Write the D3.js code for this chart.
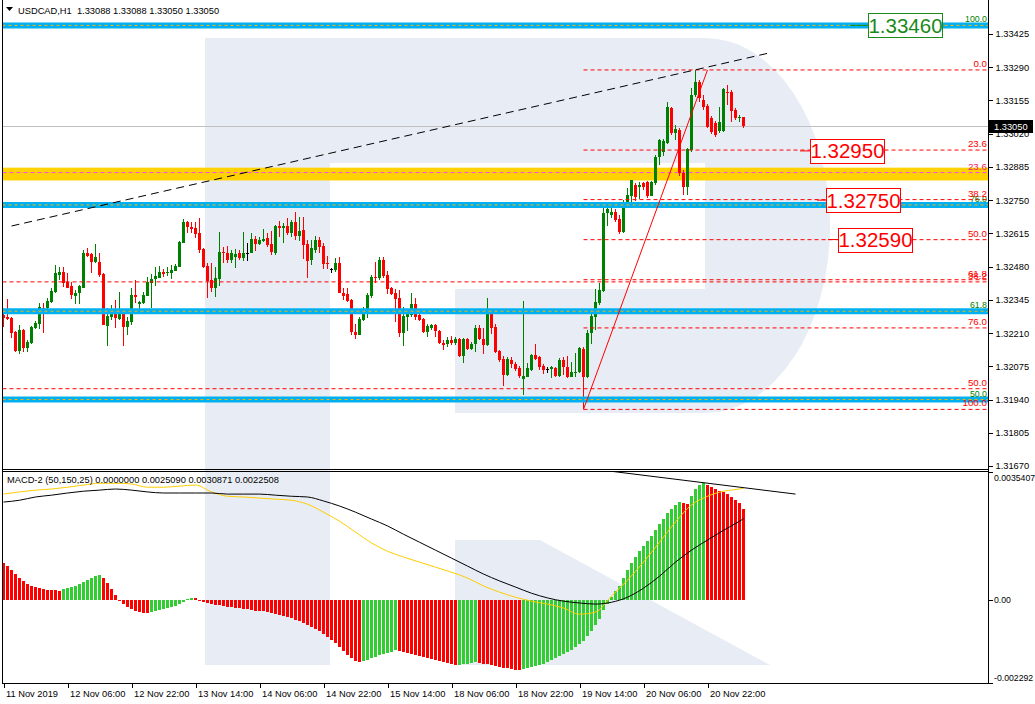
<!DOCTYPE html>
<html><head><meta charset="utf-8">
<script src="https://cdn.jsdelivr.net/npm/d3@7"></script>
<style>
html,body{margin:0;padding:0;background:#fff;}
svg{display:block;font-family:"Liberation Sans",Arial,sans-serif;}
</style></head><body>
<svg id="c" width="1035" height="704"></svg>
<script>
// ---------------- DATA ----------------
const openP = [1.32284,1.32276,1.32272,1.32215,1.32138,1.32223,1.32150,1.32170,1.32231,1.32248,
1.32313,1.32313,1.32337,1.32377,1.32447,1.32459,1.32418,1.32402,1.32361,1.32373,
1.32394,1.32536,1.32532,1.32499,1.32499,1.32451,1.32239,1.32276,1.32304,1.32268,
1.32288,1.32235,1.32256,1.32365,1.32329,1.32333,1.32361,1.32414,1.32430,1.32434,
1.32459,1.32455,1.32455,1.32463,1.32479,1.32576,1.32662,1.32641,1.32637,1.32617,
1.32552,1.32483,1.32426,1.32394,1.32430,1.32540,1.32536,1.32507,1.32520,1.32536,
1.32516,1.32536,1.32536,1.32593,1.32572,1.32585,1.32597,1.32572,1.32536,1.32645,
1.32637,1.32645,1.32617,1.32662,1.32605,1.32629,1.32572,1.32507,1.32548,1.32589,
1.32564,1.32495,1.32471,1.32467,1.32495,1.32373,1.32369,1.32345,1.32215,1.32203,
1.32264,1.32304,1.32361,1.32438,1.32434,1.32507,1.32447,1.32394,1.32373,1.32353,
1.32211,1.32276,1.32284,1.32329,1.32284,1.32268,1.32215,1.32231,1.32244,1.32219,
1.32170,1.32166,1.32183,1.32170,1.32187,1.32118,1.32187,1.32146,1.32166,1.32231,
1.32187,1.32162,1.32292,1.32235,1.32138,1.32105,1.32041,1.32101,1.32085,1.32069,
1.32024,1.32032,1.32061,1.32122,1.32114,1.32077,1.32065,1.32065,1.32069,1.32036,
1.32101,1.32073,1.32032,1.32049,1.32053,1.32146,1.32032,1.32211,1.32276,1.32333,
1.32382,1.32698,1.32690,1.32702,1.32674,1.32621,1.32731,1.32767,1.32812,1.32804,
1.32820,1.32824,1.32767,1.32820,1.32926,1.32946,1.32982,1.33125,1.33023,1.33035,
1.32861,1.32804,1.32954,1.33177,1.33230,1.33157,1.33133,1.33084,1.33064,1.33031,
1.33031,1.33189,1.33189,1.33116,1.33084,1.33088];
const highP = [1.32304,1.32349,1.32276,1.32219,1.32244,1.32227,1.32183,1.32239,1.32260,1.32333,
1.32333,1.32353,1.32394,1.32487,1.32479,1.32479,1.32455,1.32418,1.32386,1.32406,
1.32548,1.32556,1.32536,1.32572,1.32536,1.32455,1.32313,1.32325,1.32345,1.32377,
1.32304,1.32276,1.32394,1.32426,1.32341,1.32377,1.32438,1.32451,1.32479,1.32483,
1.32471,1.32479,1.32487,1.32491,1.32585,1.32674,1.32666,1.32662,1.32662,1.32678,
1.32556,1.32495,1.32495,1.32479,1.32621,1.32560,1.32564,1.32548,1.32552,1.32548,
1.32621,1.32576,1.32617,1.32605,1.32601,1.32633,1.32617,1.32625,1.32649,1.32666,
1.32658,1.32678,1.32670,1.32702,1.32682,1.32682,1.32589,1.32589,1.32605,1.32601,
1.32576,1.32524,1.32475,1.32516,1.32520,1.32394,1.32394,1.32349,1.32248,1.32276,
1.32317,1.32373,1.32447,1.32499,1.32520,1.32520,1.32463,1.32398,1.32390,1.32386,
1.32317,1.32304,1.32373,1.32353,1.32296,1.32272,1.32248,1.32248,1.32248,1.32223,
1.32183,1.32195,1.32199,1.32195,1.32191,1.32191,1.32191,1.32174,1.32244,1.32244,
1.32231,1.32353,1.32300,1.32248,1.32142,1.32118,1.32114,1.32114,1.32093,1.32077,
1.32341,1.32089,1.32126,1.32166,1.32118,1.32085,1.32073,1.32077,1.32073,1.32110,
1.32114,1.32118,1.32093,1.32130,1.32154,1.32154,1.32223,1.32296,1.32390,1.32414,
1.32723,1.32739,1.32727,1.32714,1.32690,1.32751,1.32800,1.32832,1.32820,1.32824,
1.32824,1.32828,1.32828,1.32934,1.32999,1.32999,1.33149,1.33129,1.33055,1.33043,
1.32873,1.32962,1.33206,1.33279,1.33238,1.33177,1.33141,1.33092,1.33072,1.33129,
1.33206,1.33218,1.33198,1.33125,1.33096,1.33088];
const lowP = [1.32235,1.32264,1.32191,1.32134,1.32126,1.32134,1.32134,1.32166,1.32227,1.32227,
1.32211,1.32296,1.32333,1.32373,1.32426,1.32398,1.32394,1.32349,1.32329,1.32329,
1.32394,1.32520,1.32455,1.32495,1.32438,1.32244,1.32158,1.32264,1.32231,1.32264,
1.32158,1.32203,1.32244,1.32333,1.32292,1.32329,1.32361,1.32313,1.32402,1.32434,
1.32438,1.32442,1.32430,1.32463,1.32479,1.32576,1.32617,1.32617,1.32597,1.32536,
1.32475,1.32353,1.32377,1.32357,1.32402,1.32495,1.32495,1.32495,1.32475,1.32507,
1.32503,1.32503,1.32536,1.32544,1.32568,1.32580,1.32560,1.32528,1.32528,1.32601,
1.32576,1.32609,1.32601,1.32589,1.32585,1.32511,1.32434,1.32487,1.32536,1.32536,
1.32471,1.32471,1.32455,1.32459,1.32373,1.32345,1.32337,1.32203,1.32187,1.32203,
1.32260,1.32272,1.32353,1.32414,1.32426,1.32434,1.32369,1.32365,1.32256,1.32195,
1.32158,1.32219,1.32276,1.32264,1.32260,1.32211,1.32195,1.32223,1.32195,1.32166,
1.32142,1.32154,1.32162,1.32162,1.32114,1.32089,1.32142,1.32142,1.32134,1.32183,
1.32126,1.32158,1.32207,1.32130,1.32093,1.31996,1.32036,1.32069,1.32057,1.32028,
1.31959,1.32032,1.32057,1.32101,1.32061,1.32045,1.32049,1.32028,1.32032,1.32032,
1.32041,1.32028,1.32032,1.32032,1.32049,1.31900,1.32028,1.32166,1.32223,1.32325,
1.32377,1.32645,1.32678,1.32662,1.32613,1.32617,1.32723,1.32739,1.32747,1.32755,
1.32792,1.32759,1.32767,1.32812,1.32893,1.32930,1.32978,1.33015,1.32995,1.32848,
1.32771,1.32771,1.32946,1.33169,1.33149,1.33116,1.33043,1.33019,1.33007,1.33023,
1.33027,1.33137,1.33068,1.33076,1.33068,1.33043];
const closeP = [1.32272,1.32268,1.32211,1.32138,1.32223,1.32150,1.32174,1.32235,1.32252,1.32317,
1.32308,1.32341,1.32382,1.32455,1.32459,1.32414,1.32394,1.32365,1.32373,1.32402,
1.32536,1.32524,1.32499,1.32520,1.32447,1.32244,1.32280,1.32304,1.32272,1.32292,
1.32235,1.32260,1.32365,1.32357,1.32337,1.32365,1.32418,1.32430,1.32442,1.32459,
1.32451,1.32459,1.32467,1.32483,1.32580,1.32662,1.32641,1.32633,1.32613,1.32548,
1.32479,1.32422,1.32394,1.32434,1.32540,1.32536,1.32507,1.32536,1.32532,1.32516,
1.32536,1.32536,1.32593,1.32572,1.32589,1.32593,1.32568,1.32540,1.32645,1.32637,
1.32645,1.32617,1.32662,1.32605,1.32625,1.32568,1.32503,1.32556,1.32589,1.32560,
1.32491,1.32491,1.32471,1.32495,1.32373,1.32361,1.32341,1.32215,1.32203,1.32268,
1.32308,1.32365,1.32438,1.32434,1.32507,1.32442,1.32390,1.32369,1.32349,1.32211,
1.32280,1.32292,1.32329,1.32276,1.32264,1.32215,1.32239,1.32244,1.32219,1.32170,
1.32162,1.32183,1.32170,1.32187,1.32118,1.32187,1.32146,1.32166,1.32231,1.32187,
1.32162,1.32288,1.32231,1.32134,1.32101,1.32041,1.32105,1.32085,1.32065,1.32036,
1.32036,1.32069,1.32122,1.32105,1.32073,1.32061,1.32065,1.32073,1.32036,1.32101,
1.32073,1.32032,1.32053,1.32053,1.32150,1.32032,1.32211,1.32280,1.32337,1.32386,
1.32698,1.32714,1.32702,1.32670,1.32621,1.32735,1.32771,1.32832,1.32763,1.32812,
1.32804,1.32767,1.32824,1.32926,1.32995,1.32991,1.33129,1.33023,1.33039,1.32861,
1.32804,1.32958,1.33177,1.33230,1.33165,1.33129,1.33047,1.33027,1.33015,1.33068,
1.33202,1.33185,1.33112,1.33084,1.33088,1.33050];

const histVals = [0.00102,0.00094,0.00083,0.00072,0.00061,0.00053,0.00044,0.00039,0.00036,0.00033,
0.00030,0.00029,0.00028,0.00027,0.00026,0.00030,0.00033,0.00036,0.00039,0.00044,
0.00050,0.00055,0.00061,0.00066,0.00069,0.00061,0.00047,0.00030,0.00014,-0.00003,
-0.00011,-0.00019,-0.00025,-0.00030,-0.00033,-0.00036,-0.00037,-0.00033,-0.00030,-0.00028,
-0.00025,-0.00022,-0.00019,-0.00017,-0.00011,-0.00006,0.00003,0.00006,0.00005,-0.00001,
-0.00006,-0.00008,-0.00011,-0.00013,-0.00014,-0.00017,-0.00019,-0.00020,-0.00022,-0.00023,
-0.00025,-0.00026,-0.00028,-0.00029,-0.00030,-0.00031,-0.00033,-0.00036,-0.00039,-0.00041,
-0.00044,-0.00047,-0.00050,-0.00055,-0.00058,-0.00064,-0.00069,-0.00075,-0.00080,-0.00086,
-0.00094,-0.00102,-0.00111,-0.00119,-0.00130,-0.00141,-0.00152,-0.00160,-0.00169,-0.00171,
-0.00169,-0.00166,-0.00160,-0.00158,-0.00152,-0.00149,-0.00146,-0.00144,-0.00138,-0.00141,
-0.00144,-0.00146,-0.00149,-0.00152,-0.00155,-0.00158,-0.00160,-0.00163,-0.00166,-0.00169,
-0.00171,-0.00174,-0.00177,-0.00180,-0.00179,-0.00177,-0.00176,-0.00174,-0.00171,-0.00174,
-0.00177,-0.00178,-0.00180,-0.00182,-0.00185,-0.00188,-0.00189,-0.00191,-0.00192,-0.00193,
-0.00191,-0.00188,-0.00185,-0.00182,-0.00180,-0.00177,-0.00171,-0.00166,-0.00160,-0.00155,
-0.00149,-0.00144,-0.00138,-0.00130,-0.00122,-0.00113,-0.00100,-0.00086,-0.00069,-0.00053,
-0.00028,-0.00011,0.00008,0.00025,0.00039,0.00061,0.00083,0.00102,0.00119,0.00135,
0.00149,0.00163,0.00177,0.00193,0.00210,0.00224,0.00240,0.00252,0.00263,0.00271,
0.00268,0.00265,0.00288,0.00307,0.00318,0.00323,0.00318,0.00312,0.00307,0.00301,
0.00299,0.00293,0.00285,0.00276,0.00268,0.00251];

const macdIdx = [0,4,8,12,16,20,24,28,32,36,40,44,48,52,56,60,64,68,72,76,80,84,88,92,96,100,
104,108,112,116,120,124,128,132,136,140,144,148,152,156,160,164,168,172,176,180,184,185];
const macdMain = [0.00293,0.00299,0.00304,0.00307,0.00312,0.00318,0.00323,0.00323,0.00321,0.00312,
0.00312,0.00315,0.00318,0.00299,0.00287,0.00285,0.00282,0.00279,0.00276,0.00265,
0.00243,0.00218,0.00188,0.00158,0.00135,0.00119,0.00105,0.00091,0.00077,0.00061,
0.00039,0.00022,0.00008,-0.00003,-0.00011,-0.00022,-0.00039,-0.00033,0.00011,0.00055,
0.00105,0.00160,0.00216,0.00263,0.00287,0.00301,0.00307,0.00309];
const macdSignal = [0.00271,0.00276,0.00285,0.00290,0.00296,0.00301,0.00304,0.00307,0.00304,0.00299,
0.00296,0.00296,0.00296,0.00296,0.00293,0.00293,0.00293,0.00290,0.00287,0.00285,
0.00274,0.00260,0.00243,0.00224,0.00205,0.00182,0.00160,0.00138,0.00116,0.00094,
0.00072,0.00053,0.00036,0.00019,0.00006,-0.00003,-0.00008,-0.00011,-0.00006,0.00008,
0.00033,0.00066,0.00105,0.00138,0.00166,0.00193,0.00218,0.00225];

const timeTickIdx = [0,16,32,48,64,80,96,112,128,144,160,176];
const timeTickLabels = ["11 Nov 2019","12 Nov 06:00","12 Nov 22:00","13 Nov 14:00","14 Nov 06:00",
"14 Nov 22:00","15 Nov 14:00","18 Nov 06:00","18 Nov 22:00","19 Nov 14:00","20 Nov 06:00","20 Nov 22:00"];
const priceTicks = [1.33425,1.33290,1.33155,1.33020,1.32885,1.32750,1.32615,1.32480,1.32345,1.32210,1.32075,1.31940,1.31805,1.31670];
const macdTicks = [0.0035407, 0, -0.002292];
const macdTickLabels = ["0.0035407","0.00","-0.002292"];

// Fibonacci retracement drawn from the swing low to the swing high (red, starts at the low bar)
const fibALevels = [0, 23.6, 38.2, 50, 61.8, 76, 100];
const fibAHigh = 1.33279, fibALow = 1.31900, fibAStartIdx = 145, fibAEndIdx = 176;
// second fibonacci (green labels, thick blue lines)
const fibCLevels = [100, 76, 61.8, 50];
const fibC100 = 1.33460, fibC0 = 1.30420;
// extra red full-width fib levels
const fibBLabels = ["38.2", "50.0"];
const fibBPrices = [1.32418, 1.31984];
// magenta level inside the yellow zone
const magentaLabel = "23.6", magentaPrice = 1.32862;
const zoneTop = 1.32882, zoneBottom = 1.32830;
// long trend line
const trendIdx = [2, 192], trendPrice = [1.32645, 1.33350];
// MACD divergence line
const macdTrendIdx = [152, 198], macdTrendVal = [0.00356, 0.00293];
// price labels
const boxPrices = [1.33460, 1.32950, 1.32750, 1.32590];
const boxKinds = ["green", "red", "red", "red"];
const currentPrice = 1.33050;
const headerText = "USDCAD,H1  1.33088 1.33088 1.33050 1.33050";
const macdHeader = "MACD-2 (50,150,25) 0.0000000 0.0025090 0.0030871 0.0022508";

// ---------------- LAYOUT ----------------
const boxLeft = [868, 810, 826, 838];
const boxLead = [18, 10, 9, 10];
const PL = 2.5, PR = 988.5, MB = 469.5, ST = 471.5, SB = 683.5;
const FONT = '"Liberation Sans",Arial,sans-serif';
const RED = '#ff0000', GREEN = '#008000';

const svg = d3.select('#c');
const x = d3.scaleLinear().domain([0, 185]).range([3.5, 743.5]);
const y = d3.scaleLinear().domain([1.31670, 1.33425]).range([466, 34]);
const ym = d3.scaleLinear().domain([-0.002292, 0.0035407]).range([683, 472]);

// watermark logo
svg.append('path')
  .attr('d', 'M205,38H705A125,187.5 0 0 1 705,413H455V289H705V163H330V665H205Z')
  .attr('fill', '#e8edf5');
svg.append('path').attr('d', 'M455,540H540L770,665H455Z').attr('fill', '#e8edf5');

const defs = svg.append('defs');
defs.append('clipPath').attr('id', 'cm').append('rect').attr('x', 3).attr('y', 0).attr('width', PR - 3).attr('height', MB);
defs.append('clipPath').attr('id', 'cs').append('rect').attr('x', 3).attr('y', ST + 0.5).attr('width', PR - 3).attr('height', SB - ST - 1);

const gm = svg.append('g').attr('clip-path', 'url(#cm)');

// yellow zone
gm.append('rect').attr('x', PL).attr('width', PR - PL)
  .attr('y', y(zoneTop)).attr('height', y(zoneBottom) - y(zoneTop)).attr('fill', '#ffd200');

// magenta level
gm.append('line').attr('x1', PL).attr('x2', PR).attr('y1', y(magentaPrice)).attr('y2', y(magentaPrice))
  .attr('stroke', '#ff40ff').attr('stroke-dasharray', '4,3');

// current price line
gm.append('line').attr('x1', PL).attr('x2', PR).attr('y1', Math.round(y(currentPrice)) + 0.5).attr('y2', Math.round(y(currentPrice)) + 0.5)
  .attr('stroke', '#c0c0c0');

// candles
const idx = d3.range(openP.length);
const cg = gm.append('g').attr('shape-rendering', 'crispEdges');
idx.forEach(i => {
  const o = openP[i], c = closeP[i];
  const col = c > o ? GREEN : (c < o ? RED : '#000');
  cg.append('line').attr('x1', x(i)).attr('x2', x(i)).attr('y1', y(highP[i])).attr('y2', y(lowP[i])).attr('stroke', col);
  const top = y(Math.max(o, c)), bot = y(Math.min(o, c));
  cg.append('rect').attr('x', x(i) - 1.5).attr('width', 3).attr('y', top).attr('height', Math.max(1, bot - top)).attr('fill', col);
});

// blue bands (fib C)
fibCLevels.forEach(l => {
  const p = fibC0 + (fibC100 - fibC0) * l / 100;
  const yy = y(p);
  gm.append('line').attr('x1', PL).attr('x2', PR).attr('y1', yy).attr('y2', yy).attr('stroke', '#00b0f0').attr('stroke-width', 6);
  gm.append('line').attr('x1', PL).attr('x2', PR).attr('y1', yy).attr('y2', yy).attr('stroke', '#ffb400').attr('stroke-dasharray', '3,3');
});

// fib B full-width red levels
fibBPrices.forEach(p => {
  gm.append('line').attr('x1', PL).attr('x2', PR).attr('y1', y(p)).attr('y2', y(p)).attr('stroke', RED).attr('stroke-dasharray', '4,3');
});

// fib A levels
fibALevels.forEach(l => {
  const p = fibAHigh - (fibAHigh - fibALow) * l / 100;
  gm.append('line').attr('x1', x(fibAStartIdx)).attr('x2', PR).attr('y1', y(p)).attr('y2', y(p))
    .attr('stroke', RED).attr('stroke-dasharray', '4,3');
});

// fib A diagonal
gm.append('line').attr('x1', x(fibAStartIdx)).attr('y1', y(fibALow)).attr('x2', x(fibAEndIdx)).attr('y2', y(fibAHigh))
  .attr('stroke', RED);

// trend line
gm.append('line').attr('x1', x(trendIdx[0])).attr('y1', y(trendPrice[0])).attr('x2', x(trendIdx[1])).attr('y2', y(trendPrice[1]))
  .attr('stroke', '#000').attr('stroke-dasharray', '8,5');

// level labels
function lvlLabel(text, p, color, size) {
  gm.append('text').attr('x', 987).attr('y', y(p) - 3).attr('text-anchor', 'end')
    .attr('font-family', FONT).attr('font-size', size).attr('fill', color).text(text);
}
fibCLevels.forEach(l => lvlLabel(d3.format('.1f')(l), fibC0 + (fibC100 - fibC0) * l / 100, GREEN, 8.8));
fibALevels.forEach(l => lvlLabel(d3.format('.1f')(l), fibAHigh - (fibAHigh - fibALow) * l / 100, RED, 9.8));
fibBPrices.forEach((p, k) => lvlLabel(fibBLabels[k], p, RED, 9.8));
lvlLabel(magentaLabel, magentaPrice, '#f0206a', 9.8);

// price boxes
boxPrices.forEach((p, k) => {
  const col = boxKinds[k] === 'green' ? '#1a8a1a' : RED;
  const yy = y(p);
  gm.append('line').attr('x1', boxLeft[k] - boxLead[k]).attr('x2', boxLeft[k]).attr('y1', yy).attr('y2', yy).attr('stroke', col);
  gm.append('rect').attr('x', boxLeft[k] + 0.5).attr('y', Math.round(yy - 12) + 0.5).attr('width', 74).attr('height', 24)
    .attr('fill', '#fff').attr('stroke', col);
  gm.append('text').attr('x', boxLeft[k] + 37.5).attr('y', yy + 7.5).attr('text-anchor', 'middle')
    .attr('font-family', FONT).attr('font-size', 20.5).attr('fill', col).text(d3.format('.5f')(p));
});

// ---------- MACD panel ----------
const gs = svg.append('g').attr('clip-path', 'url(#cs)');
const hg = gs.append('g').attr('shape-rendering', 'crispEdges');
histVals.forEach((v, i) => {
  const up = i > 0 && v > histVals[i - 1];
  const y0 = ym(0), y1 = ym(v);
  hg.append('rect').attr('x', x(i) - 1.5).attr('width', 3)
    .attr('y', Math.min(y0, y1)).attr('height', Math.max(0.5, Math.abs(y1 - y0)))
    .attr('fill', up ? '#32cd32' : RED);
});
const lineGen = d3.line().x(d => x(d[0])).y(d => ym(d[1])).curve(d3.curveMonotoneX);
gs.append('path').attr('d', lineGen(macdIdx.map((d, k) => [d, macdMain[k]])))
  .attr('fill', 'none').attr('stroke', '#ffcc00').attr('stroke-width', 1);
gs.append('path').attr('d', lineGen(macdIdx.map((d, k) => [d, macdSignal[k]])))
  .attr('fill', 'none').attr('stroke', '#000').attr('stroke-width', 1);
gs.append('line').attr('x1', x(macdTrendIdx[0])).attr('y1', ym(macdTrendVal[0]))
  .attr('x2', x(macdTrendIdx[1])).attr('y2', ym(macdTrendVal[1])).attr('stroke', '#000');

// ---------- frames ----------
const fr = svg.append('g').attr('stroke', '#000').attr('shape-rendering', 'crispEdges');
fr.append('line').attr('x1', PL).attr('x2', PL).attr('y1', 0).attr('y2', SB);
fr.append('line').attr('x1', PR).attr('x2', PR).attr('y1', 0).attr('y2', SB);
fr.append('line').attr('x1', PL).attr('x2', PR).attr('y1', MB).attr('y2', MB);
fr.append('line').attr('x1', PL).attr('x2', PR).attr('y1', ST).attr('y2', ST);
fr.append('line').attr('x1', PL).attr('x2', PR).attr('y1', SB).attr('y2', SB);

// ---------- axes ----------
function styleAxis(g, size) {
  g.select('.domain').remove();
  g.selectAll('line').attr('stroke', '#000').attr('shape-rendering', 'crispEdges');
  g.selectAll('text').attr('font-family', FONT).attr('font-size', size).attr('fill', '#000');
  g.attr('font-family', null).attr('font-size', null);
}
const gy = svg.append('g').attr('transform', `translate(${PR},0)`)
  .call(d3.axisRight(y).tickValues(priceTicks).tickFormat(d3.format('.5f')).tickSize(4).tickPadding(3));
styleAxis(gy, 9.3);

const gmy = svg.append('g').attr('transform', `translate(${PR},0)`)
  .call(d3.axisRight(ym).tickValues(macdTicks).tickFormat((d, i) => macdTickLabels[i]).tickSize(4).tickPadding(1.5));
styleAxis(gmy, 8.7);
gmy.selectAll('.tick text').attr('dy', (d, i) => i === 0 ? '0.95em' : (i === 2 ? '-0.3em' : '0.32em'));

const gx = svg.append('g').attr('transform', `translate(0,${SB})`)
  .call(d3.axisBottom(x).tickValues(timeTickIdx).tickFormat((d, i) => timeTickLabels[i]).tickSize(4));
styleAxis(gx, 9.3);
gx.selectAll('.tick text').attr('text-anchor', 'start').attr('x', 2).attr('y', 7).attr('dy', '0.71em');

// current price tag
const cy = y(currentPrice);
svg.append('rect').attr('x', 989).attr('y', Math.round(cy) - 6).attr('width', 44).attr('height', 13).attr('fill', '#000');
svg.append('text').attr('x', 994).attr('y', cy + 3.5).attr('font-family', FONT).attr('font-size', 9.3)
  .attr('fill', '#fff').text(d3.format('.5f')(currentPrice));

// headers
svg.append('path').attr('d', 'M6,7H13L9.5,11Z').attr('fill', '#000');
svg.append('text').attr('x', 18).attr('y', 13.5).attr('font-family', FONT).attr('font-size', 9.3)
  .attr('fill', '#000').style('white-space', 'pre').text(headerText);
svg.append('text').attr('x', 7).attr('y', 483).attr('font-family', FONT).attr('font-size', 9.3)
  .attr('fill', '#000').text(macdHeader);
</script>
</body></html>
